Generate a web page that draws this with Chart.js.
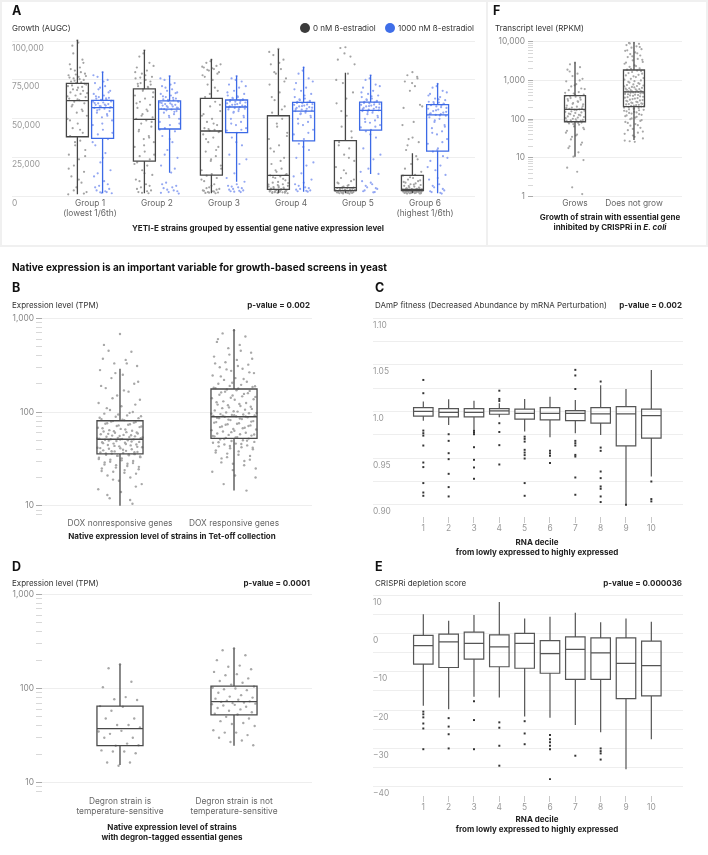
<!DOCTYPE html>
<html>
<head>
<meta charset="utf-8">
<title>Native expression and growth-based screens</title>
<script src="https://cdn.jsdelivr.net/npm/chart.js@4.4.1/dist/chart.umd.min.js"></script>
<style>
  body { margin: 0; background: #fff; font-family: Inter, 'Noto Sans', sans-serif; color: #333; }
  #page { position: relative; width: 708px; height: 855px; overflow: hidden; }
  canvas { position: absolute; }
  .t { position: absolute; transform: translateY(-50%); white-space: nowrap; font-size: 8px; line-height: 1; }
  .c { transform: translate(-50%, -50%); text-align: center; }
  .r { transform: translate(-100%, -50%); }
  .b { font-weight: 700; color: #222; }
  .L { font-size: 12.5px; font-weight: 700; color: #111; }
  .dot { position: absolute; width: 10px; height: 10px; border-radius: 50%; }
  .frame { position: absolute; background: #f0f0f0; }
</style>
</head>
<body>
<div id="page">
  <div class="frame" style="left:0;top:0;width:708px;height:2px"></div>
  <div class="frame" style="left:0;top:245px;width:708px;height:2px"></div>
  <div class="frame" style="left:0;top:0;width:2px;height:247px"></div>
  <div class="frame" style="left:706px;top:0;width:2px;height:247px"></div>
  <div class="frame" style="left:486px;top:0;width:2px;height:247px"></div>

  <canvas id="chartA"></canvas>
  <canvas id="chartF"></canvas>
  <canvas id="chartB"></canvas>
  <canvas id="chartC"></canvas>
  <canvas id="chartD"></canvas>
  <canvas id="chartE"></canvas>

  <div class="t L" style="left:12px;top:10.5px">A</div>
  <div class="t" style="left:12px;top:28px">Growth (AUGC)</div>
  <div class="dot" style="left:300px;top:23px;background:#3b3b3b"></div>
  <div class="t" style="left:313px;top:28px">0 nM ß-estradiol</div>
  <div class="dot" style="left:385px;top:23px;background:#3f6ee8"></div>
  <div class="t" style="left:398px;top:28px">1000 nM ß-estradiol</div>
  <div class="t c b" style="left:258px;top:227.7px">YETI-E strains grouped by essential gene native expression level</div>

  <div class="t L" style="left:493px;top:10.5px">F</div>
  <div class="t" style="left:495px;top:28px">Transcript level (RPKM)</div>
  <div class="t c b" style="left:610px;top:221.7px;line-height:10px">Growth of strain with essential gene<br>inhibited by CRISPRi in <i>E. coli</i></div>

  <div class="t b" style="left:12px;top:266.7px;font-size:10px;color:#111">Native expression is an important variable for growth-based screens in yeast</div>

  <div class="t L" style="left:12px;top:288px">B</div>
  <div class="t" style="left:12px;top:305px">Expression level (TPM)</div>
  <div class="t r b" style="left:310px;top:305px">p-value = 0.002</div>
  <div class="t c b" style="left:172px;top:536px">Native expression level of strains in Tet-off collection</div>

  <div class="t L" style="left:375px;top:288px">C</div>
  <div class="t" style="left:375px;top:305px">DAmP fitness (Decreased Abundance by mRNA Perturbation)</div>
  <div class="t r b" style="left:682px;top:305px">p-value = 0.002</div>
  <div class="t c b" style="left:537px;top:546.9px;line-height:10.3px">RNA decile<br>from lowly expressed to highly expressed</div>

  <div class="t L" style="left:12px;top:566.7px">D</div>
  <div class="t" style="left:12px;top:582.7px">Expression level (TPM)</div>
  <div class="t r b" style="left:310px;top:582.7px">p-value = 0.0001</div>
  <div class="t c b" style="left:172px;top:831.7px;line-height:10px">Native expression level of strains<br>with degron-tagged essential genes</div>

  <div class="t L" style="left:375px;top:566.7px">E</div>
  <div class="t" style="left:375px;top:582.7px">CRISPRi depletion score</div>
  <div class="t r b" style="left:682px;top:582.7px">p-value = 0.000036</div>
  <div class="t c b" style="left:537px;top:824.7px;line-height:10.7px">RNA decile<br>from lowly expressed to highly expressed</div>
</div>

<script>
// ---------- Panel A: growth (AUGC, in thousands) ----------
const groupLabels = [['Group 1', '(lowest 1/6th)'], 'Group 2', 'Group 3', 'Group 4', 'Group 5', ['Group 6', '(highest 1/6th)']];
const growthTicks = [0, 25, 50, 75, 100];
// [low whisker, q1, median, q3, high whisker]
const growthOffStats = [
    [1.5, 38.5, 61.7, 72.8, 100.6],
    [2.2, 22.9, 49.7, 69.2, 94.2],
    [2.2, 13.9, 42.2, 63.2, 88.4],
    [2.2, 4.7, 13.7, 52.0, 94.9],
    [2.2, 3.9, 5.8, 36.0, 79.6],
    [2.2, 3.9, 4.7, 13.7, 27.9]
];
const growthOnStats = [
    [2.2, 37.5, 57.2, 61.9, 80.3],
    [15.4, 43.5, 56.3, 61.5, 77.7],
    [9.6, 41.1, 57.6, 62.1, 77.7],
    [3.2, 35.8, 55.0, 60.6, 83.5],
    [14.6, 42.8, 55.5, 60.8, 78.2],
    [2.2, 29.3, 52.5, 59.1, 72.8]
];
const growthOffPoints = [
    [100.5, 97, 88, 85, 83, 81, 79, 78, 77, 76, 75, 74, 73.5, 73, 72, 71, 70, 69, 68, 67, 66, 65, 64, 63, 62, 61, 60, 58, 56, 54, 52, 50, 47, 44, 41, 39, 36, 33, 30, 27, 24, 20, 16, 13, 9, 6, 3, 1.5,
     99, 92, 86, 82, 80, 78.5, 77.5, 76.5, 75.5, 74.5, 72.5, 71.5, 70.5, 68.5, 66.5, 64.5, 62.5, 59, 55, 49, 43, 35, 26, 18, 11, 4, 2],
    [94, 90, 86, 83, 81, 79, 77, 76, 75, 73, 72, 71, 70, 69, 67, 65, 63, 61, 59, 57, 55, 53, 51, 50, 49, 47, 45, 42, 39, 37, 35, 32, 29, 26, 24, 22, 20, 17, 14, 11, 8, 6, 4, 3, 2.2,
     92, 84, 80, 78, 76.5, 74, 72.5, 70.5, 68, 64, 60, 56, 52, 48, 43, 38, 33, 27, 21, 15, 10, 7, 5, 3.5, 2.5],
    [88, 86, 84, 83, 82, 81, 80, 78, 75, 72, 68, 64, 61, 58, 55, 52, 50, 48, 46, 44, 43, 42.5, 42, 40, 38, 35, 32, 29, 26, 23, 20, 17, 14.5, 13.5, 12, 10, 8, 6, 5, 4, 3.5, 3, 2.7, 2.4, 2.2,
     87, 85, 83.5, 82.5, 81.5, 79, 77, 70, 66, 59, 53, 47, 43.5, 41.5, 37, 30, 24, 18, 11, 7, 5.5, 4.5, 3.8, 3.2, 2.6],
    [95, 91, 88, 85, 82, 79, 76, 72, 67, 62, 58, 54, 50, 45, 41, 37, 33, 29, 25, 21, 18, 16, 14.5, 13.7, 13, 12, 10.5, 9, 8, 7.5, 7, 6.5, 6, 5.5, 5, 4.7, 4.5, 4.3, 4.1, 3.9, 3.7, 3.5, 3.2, 3, 2.8, 2.5, 2.2,
     93, 86, 80, 74, 64, 56, 47, 39, 31, 23, 17, 14, 12.5, 11.5, 9.5, 8.8, 7.8, 6.8, 6.2, 5.8, 5.2, 4.8, 4.2, 3.8, 3.4, 3.1, 2.9, 2.6, 2.4],
    [96, 95.5, 90, 88, 79, 73, 67, 60, 52, 45, 38, 35, 31, 27, 23, 19, 15, 12, 10, 8.5, 7.5, 6.5, 5.8, 5.6, 5.4, 5.2, 5, 4.8, 4.6, 4.4, 4.2, 4, 3.9, 3.8, 3.6, 3.4, 3.2, 3, 2.9, 2.8, 2.6, 2.5, 2.4, 2.2, 2,
     92, 85, 75, 63, 55, 42, 33, 25, 17, 11, 9, 7, 6.2, 5.5, 5.1, 4.7, 4.5, 4.1, 3.7, 3.5, 3.3, 3.1, 2.7, 2.3, 2.1],
    [80, 78, 76, 74, 71, 68, 59, 57, 48, 37, 35, 30, 26, 21, 16, 13.5, 12, 11, 10, 9, 8.5, 8, 7.5, 7, 6.5, 6, 5.7, 5.4, 5.1, 4.9, 4.6, 4.5, 4.4, 4.3, 4.2, 4.1, 4, 3.95, 3.9, 3.85, 3.8, 3.75, 3.7, 3.6, 3.5, 3.4, 3.3, 3.2, 3.1, 3, 2.9, 2.8, 2.7, 2.6, 2.5, 2.4, 2.3, 2.2, 2.1, 2,
     77, 73, 58, 46, 38, 33, 24, 18, 14, 12.5, 10.5, 9.5, 7.8, 6.8, 5.9, 5.2, 4.8, 4.35, 4.15, 3.95, 3.65, 3.45, 3.15, 2.85, 2.55, 2.35, 2.15]
];
const growthOnPoints = [
    [80, 77, 75, 73, 71, 70, 68, 66, 65, 64, 63.5, 63, 62.5, 62, 61.5, 61, 60.5, 60, 59.5, 59, 58.5, 58, 57.5, 57, 56.5, 56, 55, 54, 53, 51, 49, 46, 43, 40, 37, 33, 28, 22, 17, 13, 10, 7, 5, 4, 3, 2.5, 2.2,
     78, 74, 69, 67, 64.5, 63.2, 62.2, 61.2, 60.2, 59.2, 58.2, 57.2, 55.5, 52, 47, 41, 35, 25, 15, 8, 6, 3.5, 2.8],
    [77.5, 75, 73, 71, 69, 68, 67, 66, 65, 64, 63, 62.5, 62, 61.5, 61, 60.5, 60, 59.5, 59, 58.5, 58, 57.5, 57, 56.5, 56, 55.5, 55, 54, 53, 52, 50, 48, 46, 44, 42, 39, 35, 30, 25, 20, 15.5, 9, 7, 5.5, 4, 3, 2,
     76, 72, 70, 66.5, 64.5, 63.5, 62.2, 61.2, 60.2, 59.2, 58.2, 57.2, 56.2, 54.5, 51, 47, 43, 37, 27, 18, 8, 6, 4.5, 3.5, 2.5],
    [77.5, 76, 74, 72, 70, 68, 66, 65, 64, 63, 62.5, 62, 61.5, 61, 60.5, 60, 59.5, 59, 58.5, 58, 57.5, 57, 56.5, 56, 55, 54, 52, 50, 48, 46, 44, 42.5, 41, 38, 33, 27, 21, 15, 9.6, 7, 6, 5, 4, 3.5, 3,
     75, 71, 67, 64.5, 63.5, 62.2, 61.2, 60.2, 59.2, 58.2, 57.2, 56.2, 54.5, 51, 47, 43, 35, 24, 12, 8, 6.5, 5.5, 4.5, 3.8, 3.2],
    [83, 79, 76, 73, 70, 68, 66, 64, 63, 62, 61.5, 61, 60.5, 60, 59.5, 59, 58.5, 58, 57.5, 57, 56.5, 56, 55.5, 55, 54, 53, 52, 50, 48, 46, 43, 40, 37, 34, 30, 25, 20, 15, 11, 8, 6, 5, 4, 3.5, 3.2,
     81, 74, 69, 65, 62.5, 61.2, 60.2, 59.2, 58.2, 57.2, 56.2, 55.2, 53.5, 51, 47, 41, 32, 22, 13, 9, 7, 5.5, 4.5, 3.8],
    [78, 75, 72, 70, 68, 66, 65, 64, 63, 62, 61.5, 61, 60.5, 60, 59.5, 59, 58.5, 58, 57.5, 57, 56.5, 56, 55.5, 55, 54, 53, 52, 50, 49, 47.5, 46, 44.5, 43, 42, 38, 31, 24, 18, 14.6, 10, 8, 6, 5, 4, 3,
     76, 71, 67, 64.5, 62.5, 61.2, 60.2, 59.2, 58.2, 57.2, 56.2, 55.2, 54.5, 51, 48, 45, 40, 27, 16, 9, 7, 5.5, 3.5, 2.8],
    [72.5, 70, 68, 66, 64, 63, 62, 61, 60.5, 60, 59.5, 59, 58.5, 58, 57, 56.5, 56, 55, 54, 53.5, 53, 52.5, 52, 51, 50, 48, 46, 44, 42, 40, 37, 34, 31, 29, 26, 23, 20, 17, 14, 11, 8, 6, 4, 3, 2,
     71, 67, 65, 62.5, 60.8, 59.8, 58.8, 57.5, 55.5, 54.5, 53.2, 52.2, 49, 45, 41, 35, 30, 25, 19, 12, 7, 5, 3.5, 2.5]
];

// ---------- Panel F: transcript level (RPKM) ----------
const ecoliLabels = ['Grows', 'Does not grow'];
const rpkmTicks = [1, 2, 3, 4, 5, 6, 7, 8, 9, 10, 20, 30, 40, 50, 60, 70, 80, 90, 100, 200, 300, 400, 500, 600, 700, 800, 900, 1000, 2000, 3000, 4000, 5000, 6000, 7000, 8000, 9000, 10000];
const ecoliStats = [
    [10.8, 86, 180, 404, 2940],
    [29, 210, 510, 1860, 9660]
];
const ecoliPoints = [
    [2900, 2600, 2200, 1900, 1500, 1300, 1100, 950, 800, 700, 620, 560, 500, 460, 430, 400, 380, 350, 320, 300, 280, 260, 240, 225, 210, 200, 190, 185, 180, 175, 165, 155, 145, 135, 125, 118, 110, 102, 96, 92, 88, 86, 82, 78, 72, 65, 55, 45, 38, 30, 22, 18, 14, 10.8, 8.8, 5.6, 4.4, 1.75, 1.17,
     1700, 1000, 750, 600, 480, 420, 390, 360, 330, 290, 250, 215, 195, 170, 160, 150, 140, 130, 122, 114, 106, 99, 94, 90, 84, 80, 75, 60, 50, 40, 35, 25, 20],
    [9600, 9300, 8800, 8200, 7600, 7000, 6400, 5800, 5300, 4800, 4400, 4000, 3600, 3300, 3000, 2700, 2450, 2250, 2050, 1900, 1800, 1650, 1500, 1350, 1220, 1100, 1000, 920, 850, 790, 740, 700, 660, 630, 600, 575, 550, 530, 515, 510, 500, 480, 460, 440, 420, 400, 380, 360, 340, 320, 305, 290, 275, 260, 250, 240, 230, 220, 212, 205, 195, 185, 175, 165, 155, 145, 135, 125, 115, 105, 95, 85, 75, 68, 60, 52, 45, 38, 32, 28, 26,
     9000, 7300, 6000, 5000, 4200, 3400, 2900, 2350, 2000, 1750, 1550, 1400, 1280, 1150, 1050, 960, 880, 820, 760, 720, 680, 645, 615, 590, 560, 540, 520, 505, 490, 470, 450, 430, 410, 390, 370, 350, 330, 312, 298, 282, 268, 255, 245, 235, 225, 215, 200, 190, 180, 170, 160, 150, 140, 130, 120, 110, 100, 90, 80, 70, 56, 48, 42, 35, 27]
];

// ---------- Panels B and D: expression level (TPM) ----------
const tpmTicks = [8, 9, 10, 20, 30, 40, 50, 60, 70, 80, 90, 100, 200, 300, 400, 500, 600, 700, 800, 900, 1000];
const doxLabels = ['DOX nonresponsive genes', 'DOX responsive genes'];
const doxStats = [
    [10, 35.7, 51.2, 80.7, 290],
    [14.5, 52.4, 89, 176, 763]
];
const doxPoints = [
    [680, 450, 440, 370, 360, 330, 310, 280, 250, 230, 200, 180, 165, 150, 135, 125, 115, 105, 100, 96, 92, 89, 86, 84, 82,
     80, 78, 76, 74, 72, 70, 68, 66, 64, 63, 62, 61, 60, 59, 58, 57, 56, 55, 54.5, 54, 53, 52.5, 52, 51.5, 51.2,
     51, 50.5, 50, 49, 48, 47.5, 47, 46, 45, 44.5, 44, 43, 42, 41.5, 41, 40.5, 40, 39, 38.5, 38, 37.5, 37, 36.5, 36,
     35.5, 35, 34.5, 34, 33, 32.5, 32, 31, 30, 29, 28, 27, 26, 25, 24, 23, 22, 21, 20, 18.5, 17, 15, 14, 12, 10.5,
     520, 330, 260, 210, 190, 170, 140, 120, 110, 98, 94, 90, 87, 83, 79, 77, 75, 73, 71, 69, 67, 65, 62.5, 60.5, 58.5, 56.5, 55.5, 53.5, 52.2, 50.8,
     49.5, 48.5, 46.5, 45.5, 43.5, 42.5, 41.2, 39.5, 38.2, 37.2, 36.2, 35.2, 34.2, 33.5, 31.5, 30.5, 29.5, 28.5, 27.5, 26.5, 25.5, 24.5, 23.5, 22.5, 19, 16, 13, 11.5],
    [745, 690, 640, 560, 520, 480, 430, 390, 360, 340, 320, 300, 290, 275, 260, 245, 230, 220, 210, 200, 195, 190, 185, 180, 178,
     174, 168, 162, 156, 150, 145, 140, 135, 130, 125, 120, 116, 112, 108, 104, 101, 99, 97, 95, 94, 93, 92, 91, 90, 89,
     88, 86, 84, 82, 80, 78, 76, 74, 72, 70, 68, 66, 65, 64, 63, 62, 60, 59, 58, 57, 56, 55, 54, 53,
     52, 51, 50, 49, 48, 47, 46, 45, 44, 43, 42, 41, 40, 39, 38, 36, 34, 32, 30, 28, 25, 23, 21, 17, 14.5,
     600, 450, 410, 370, 330, 310, 285, 265, 240, 225, 205, 188, 182, 171, 165, 159, 153, 147, 142, 137, 127, 122, 118, 114, 110, 106, 102, 98, 96, 92.5,
     91.5, 89.5, 87, 85, 83, 79, 77, 75, 73, 71, 69, 67, 61, 57.5, 55.5, 53.5, 51.5, 49.5, 47.5, 45.5, 43.5, 41.5, 37, 35, 33, 31, 29, 27, 24, 20]
];
const degronLabels = [['Degron strain is', 'temperature-sensitive'], ['Degron strain is not', 'temperature-sensitive']];
const degronStats = [
    [15.4, 24.7, 37.4, 65, 181],
    [24.7, 52.4, 72.4, 106, 267]
];
const degronPoints = [
    [181, 164, 118, 103, 81, 77, 75.5, 65, 64, 58, 48, 48, 41, 41, 38.5, 35, 35.5, 33, 30, 30, 26, 24.7, 25, 22, 21.4, 21.4, 20.5, 16.4, 16.4, 15.1],
    [267, 255, 225, 200, 175, 170, 160, 150, 142, 138, 128, 120, 115, 110, 105, 102, 100, 98, 96, 90, 85, 82, 80, 78, 76, 74, 73, 72, 71, 70, 69, 68, 67, 66, 64, 62, 60, 58, 56, 54, 53, 50, 48, 45, 43, 42, 40, 36, 34, 34, 32, 30, 28, 27, 25]
];

// ---------- Panels C and E: RNA deciles ----------
const decileLabels = ['1', '2', '3', '4', '5', '6', '7', '8', '9', '10'];
const dampTicks = [0.90, 0.925, 0.95, 0.975, 1.0, 1.025, 1.05, 1.075, 1.10];
const dampTickLabels = ['0.90', '', '0.95', '', '1.0', '', '1.05', '', '1.10'];
const dampStats = [
    [0.990, 0.9949, 1.000, 1.0041, 1.0105],
    [0.9856, 0.9941, 0.999, 1.003, 1.013],
    [0.9802, 0.9941, 0.999, 1.003, 1.0115],
    [0.9938, 0.997, 1.0005, 1.003, 1.0088],
    [0.9784, 0.9917, 0.998, 1.0024, 1.0134],
    [0.9724, 0.991, 0.998, 1.004, 1.0158],
    [0.9767, 0.9902, 0.998, 1.0009, 1.0123],
    [0.9749, 0.9874, 0.9973, 1.004, 1.028],
    [0.9009, 0.9631, 0.9973, 1.0051, 1.024],
    [0.9303, 0.9714, 0.9955, 1.0024, 1.0443]
];
const dampOutliers = [
    [1.0337, 1.0195, 0.9795, 0.9767, 0.9741, 0.9635, 0.9453, 0.9404, 0.9233, 0.9132, 0.9097],
    [0.9756, 0.9685, 0.9553, 0.9489, 0.9332, 0.919, 0.909],
    [0.9792, 0.9774, 0.9756, 0.9617, 0.9482, 0.94, 0.9279],
    [1.0222, 1.0134, 1.0112, 0.9874, 0.978, 0.9639, 0.9432],
    [0.973, 0.9706, 0.9677, 0.9589, 0.956, 0.9532, 0.9496, 0.9233, 0.9097],
    [0.9578, 0.9553, 0.9525, 0.9447],
    [1.0445, 1.0385, 1.024, 0.9685, 0.966, 0.9635, 0.9535, 0.9517, 0.9293, 0.9108],
    [1.032, 0.9613, 0.9578, 0.9357, 0.9286, 0.9197, 0.9172, 0.909, 0.903],
    [0.900],
    [0.925, 0.9062, 0.9037]
];
const crisprTicks = [-40, -35, -30, -25, -20, -15, -10, -5, 0, 5, 10];
const crisprTickLabels = ['\u221240', '', '\u221230', '', '\u221220', '', '\u221210', '', '0', '', '10'];
const crisprStats = [
    [-18.9, -8.0, -3.2, -0.5, 5.0],
    [-19.8, -8.9, -2.2, -0.2, 3.3],
    [-16.5, -6.7, -2.6, 0.3, 4.8],
    [-16.7, -8.7, -3.5, -0.4, 8.2],
    [-21.7, -9.1, -2.6, 0.0, 3.9],
    [-22.0, -10.4, -5.3, -1.9, 4.3],
    [-23.9, -12.0, -4.2, -0.9, 5.4],
    [-25.8, -12.0, -5.1, -1.2, 2.9],
    [-35.4, -17.0, -7.8, -1.2, 3.9],
    [-27.6, -16.3, -8.4, -2.0, 3.0]
];
const crisprOutliers = [
    [-20.4, -21.1, -21.9, -23.5, -24.8, -30.2],
    [-22.1, -24.3, -26.3, -30.0],
    [-17.7, -22.6, -30.2],
    [-23.2, -24.6, -29.3, -34.5],
    [-22.9, -26.1, -28.9],
    [-26.5, -27.6, -28.4, -29.3, -30.2, -38.0],
    [-31.9],
    [-30.0, -30.7, -31.3, -32.9],
    [],
    []
];

// ---------- helpers ----------
Chart.defaults.font.family = 'Inter';
Chart.defaults.font.size = 8.4;
Chart.defaults.color = '#888';
Chart.defaults.animation = false;
Chart.defaults.plugins.legend.display = false;
Chart.defaults.plugins.tooltip.enabled = false;

const X_AXIS_HEIGHT = 30;
const isDecade = v => Math.abs(Math.log10(v) - Math.round(Math.log10(v))) < 1e-6;

// van der Corput sequence, used only to spread points sideways (no randomness)
function vdc(n) {
    let q = 0, bk = 0.5;
    while (n > 0) { q += (n % 2) * bk; n = Math.floor(n / 2); bk /= 2; }
    return q;
}

function jitter(values, center, spread) {
    return values.map((v, i) => ({ x: center + (vdc(i + 1) - 0.5) * spread, y: v }));
}

// draws whiskers, box and median on top of the points, using the chart scales
function boxLayer(boxes, width, lineWidth) {
    return {
        id: 'boxLayer',
        afterDatasetsDraw(chart) {
            const { ctx, scales: { x, y } } = chart;
            ctx.save();
            ctx.lineWidth = lineWidth;
            boxes.forEach(b => {
                const cx = x.getPixelForValue(b.x);
                const x0 = x.getPixelForValue(b.x - width / 2);
                const x1 = x.getPixelForValue(b.x + width / 2);
                const [lo, q1, med, q3, hi] = b.stats.map(v => y.getPixelForValue(v));
                ctx.strokeStyle = b.color;
                ctx.beginPath();
                ctx.moveTo(cx, hi); ctx.lineTo(cx, q3);
                ctx.moveTo(cx, q1); ctx.lineTo(cx, lo);
                ctx.rect(x0, q3, x1 - x0, q1 - q3);
                ctx.moveTo(x0, med); ctx.lineTo(x1, med);
                ctx.stroke();
            });
            ctx.restore();
        }
    };
}

function categoryAxis(min, max, labels, pad, color, tickLen) {
    return {
        type: 'linear', min, max,
        afterBuildTicks: s => { s.ticks = labels.map((_, i) => ({ value: i + 1 })); },
        afterFit: s => { s.height = X_AXIS_HEIGHT; },
        border: { display: false },
        grid: {
            drawOnChartArea: false,
            drawTicks: tickLen > 0,
            tickLength: tickLen,
            tickColor: '#c8c8c8',
            color: 'rgba(0,0,0,0)'
        },
        ticks: {
            padding: pad, color, autoSkip: false, maxRotation: 0, minRotation: 0,
            font: { size: 8.4, lineHeight: 1.2 },
            callback: (v, i) => labels[i]
        }
    };
}

// linear value axis, labels sit just under their grid line
function gridAxis(min, max, ticks, labels) {
    return {
        type: 'linear', min, max,
        afterBuildTicks: s => { s.ticks = ticks.map(v => ({ value: v })); },
        afterFit: s => { s.width = 0; },
        border: { display: false },
        grid: { color: '#eeeeee', drawTicks: false },
        ticks: { mirror: true, padding: 0, labelOffset: 7, color: '#999', autoSkip: false, callback: (v, i) => labels[i] }
    };
}

function logAxis(min, max, ticks, tickLen, pad, width) {
    return {
        type: 'logarithmic', min, max,
        afterBuildTicks: s => { s.ticks = ticks.map(v => ({ value: v })); },
        afterFit: s => { s.width = width; },
        border: { display: false },
        grid: {
            color: c => (c.tick && isDecade(c.tick.value)) ? '#eeeeee' : 'rgba(0,0,0,0)',
            tickColor: c => (c.tick && isDecade(c.tick.value)) ? '#aaaaaa' : '#d8d8d8',
            tickLength: tickLen
        },
        ticks: { padding: pad, color: '#888', autoSkip: false, callback: v => isDecade(v) ? v.toLocaleString('en-US') : '' }
    };
}

function pointSet(data, color, radius) {
    return { data, pointRadius: radius, pointHoverRadius: 0, pointBackgroundColor: color, pointBorderWidth: 0 };
}

function outlierSet(outliers) {
    const data = outliers.flatMap((arr, i) => arr.map(v => ({ x: i + 1, y: v })));
    return { data, pointStyle: 'rect', pointRadius: 1.4, pointHoverRadius: 0, pointBackgroundColor: '#333', pointBorderWidth: 0 };
}

// rect = [left, top, width, height] of the canvas, area = [left, top, right, bottom] of the plot
function makeChart(id, rect, area, yWidth, scales, datasets, plugin) {
    const [L, T, W, H] = rect;
    const [al, at, ar, ab] = area;
    const el = document.getElementById(id);
    el.width = W; el.height = H;
    el.style.left = L + 'px'; el.style.top = T + 'px';
    return new Chart(el, {
        type: 'scatter',
        data: { datasets },
        options: {
            responsive: false,
            devicePixelRatio: 1,
            layout: { padding: { left: al - L - yWidth, right: L + W - ar, top: at - T, bottom: T + H - ab - X_AXIS_HEIGHT } },
            scales
        },
        plugins: [plugin]
    });
}

// ---------- Panel A ----------
const A_SHIFT = 0.188, A_BOX = 0.328;
makeChart('chartA', [0, 0, 487, 246], [12, 37.9, 475, 196.7], 0,
    {
        x: categoryAxis(-0.164, 6.746, groupLabels, 1.6, '#666', 0),
        y: gridAxis(0, 102, growthTicks, growthTicks.map(v => (v * 1000).toLocaleString('en-US')))
    },
    [
        ...growthOffPoints.map((vals, i) => pointSet(jitter(vals, i + 1 - A_SHIFT, A_BOX * 0.92), '#a3a3a3', 1.1)),
        ...growthOnPoints.map((vals, i) => pointSet(jitter(vals, i + 1 + A_SHIFT, A_BOX * 0.92), '#93a7f2', 1.1))
    ],
    boxLayer([
        ...growthOffStats.map((s, i) => ({ x: i + 1 - A_SHIFT, stats: s, color: '#474747' })),
        ...growthOnStats.map((s, i) => ({ x: i + 1 + A_SHIFT, stats: s, color: '#3c6ae6' }))
    ], A_BOX, 1.3)
);

// ---------- Panel F ----------
makeChart('chartF', [487, 0, 221, 246], [533, 41.7, 682, 196.7], 46,
    {
        x: categoryAxis(0.288, 2.814, ecoliLabels, 1.6, '#666', 0),
        y: logAxis(1, 10000, rpkmTicks, 5, 3, 46)
    },
    ecoliPoints.map((vals, i) => pointSet(jitter(vals, i + 1, 0.34), '#a8a8a8', 1.1)),
    boxLayer(ecoliStats.map((s, i) => ({ x: i + 1, stats: s, color: '#4a4a4a' })), 0.356, 1.3)
);

// ---------- Panel B ----------
makeChart('chartB', [0, 270, 360, 285], [42, 318.3, 312, 514.8], 42,
    {
        x: categoryAxis(0.316, 2.684, doxLabels, 3.2, '#666', 0),
        y: logAxis(8, 1000, tpmTicks, 6, 2, 42)
    },
    doxPoints.map((vals, i) => pointSet(jitter(vals, i + 1, 0.4), '#a8a8a8', 1.2)),
    boxLayer(doxStats.map((s, i) => ({ x: i + 1, stats: s, color: '#4a4a4a' })), 0.404, 1.3)
);

// ---------- Panel D ----------
makeChart('chartD', [0, 560, 360, 295], [42, 594.3, 312, 791.8], 42,
    {
        x: categoryAxis(0.316, 2.684, degronLabels, 4.9, '#666', 0),
        y: logAxis(8, 1000, tpmTicks, 6, 2, 42)
    },
    degronPoints.map((vals, i) => pointSet(jitter(vals, i + 1, 0.4), '#a8a8a8', 1.2)),
    boxLayer(degronStats.map((s, i) => ({ x: i + 1, stats: s, color: '#4a4a4a' })), 0.404, 1.3)
);

// ---------- Panel C ----------
makeChart('chartC', [360, 280, 348, 280], [373, 318, 683, 517], 0,
    {
        x: categoryAxis(-0.986, 11.25, decileLabels, 0.3, '#999', 6),
        y: gridAxis(0.887, 1.10, dampTicks, dampTickLabels)
    },
    [outlierSet(dampOutliers)],
    boxLayer(dampStats.map((s, i) => ({ x: i + 1, stats: s, color: '#555' })), 0.77, 1.2)
);

// ---------- Panel E ----------
makeChart('chartE', [360, 560, 348, 295], [373, 595, 683, 796], 0,
    {
        x: categoryAxis(-0.986, 11.25, decileLabels, 0.3, '#999', 6),
        y: gridAxis(-42.4, 10, crisprTicks, crisprTickLabels)
    },
    [outlierSet(crisprOutliers)],
    boxLayer(crisprStats.map((s, i) => ({ x: i + 1, stats: s, color: '#555' })), 0.77, 1.2)
);
</script>
</body>
</html>
